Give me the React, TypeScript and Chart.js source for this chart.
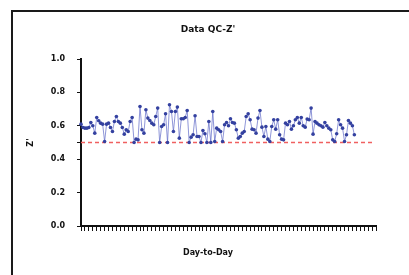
import React, { useEffect, useRef } from "react";
import { Chart, registerables } from "chart.js";

Chart.register(...registerables);

// Z' values per day
const zValues: number[] = [
  0.61, 0.59, 0.586, 0.586, 0.59, 0.62, 0.6, 0.556, 0.65, 0.63,
  0.616, 0.61, 0.506, 0.61, 0.616, 0.59, 0.566, 0.626, 0.656, 0.626,
  0.616, 0.59, 0.55, 0.576, 0.566, 0.626, 0.65, 0.5, 0.52, 0.516,
  0.716, 0.576, 0.556, 0.696, 0.646, 0.632, 0.616, 0.606, 0.656, 0.706,
  0.5, 0.596, 0.606, 0.672, 0.5, 0.726, 0.686, 0.566, 0.686, 0.712,
  0.526, 0.642, 0.642, 0.65, 0.692, 0.5, 0.532, 0.546, 0.66, 0.536,
  0.536, 0.5, 0.572, 0.552, 0.5, 0.626, 0.5,
  0.686, 0.506, 0.586, 0.576, 0.566, 0.506, 0.606, 0.62, 0.6, 0.642,
  0.62, 0.616, 0.576, 0.526, 0.536, 0.556, 0.566, 0.656, 0.672, 0.636,
  0.58, 0.576, 0.556, 0.646, 0.692, 0.592, 0.536, 0.596, 0.52, 0.506,
  0.596, 0.636, 0.58, 0.636, 0.546, 0.52, 0.516, 0.616, 0.606, 0.626,
  0.58, 0.6, 0.636, 0.65, 0.616, 0.65, 0.6, 0.592, 0.64, 0.636,
  0.706, 0.55, 0.626, 0.616, 0.606, 0.6, 0.592, 0.62, 0.6, 0.586,
  0.576, 0.516, 0.506, 0.552, 0.636, 0.606, 0.586, 0.506, 0.546, 0.632,
  0.616, 0.6, 0.546,
];

// Day categories on the x axis (the axis runs a little past the last measured day)
const dayLabels: string[] = [
  "1","2","3","4","5","6","7","8","9","10","11","12","13","14","15","16","17","18","19","20",
  "21","22","23","24","25","26","27","28","29","30","31","32","33","34","35","36","37","38","39","40",
  "41","42","43","44","45","46","47","48","49","50","51","52","53","54","55","56","57","58","59","60",
  "61","62","63","64","65","66","67","68","69","70","71","72","73","74","75","76","77","78","79","80",
  "81","82","83","84","85","86","87","88","89","90","91","92","93","94","95","96","97","98","99","100",
  "101","102","103","104","105","106","107","108","109","110","111","112","113","114","115","116","117","118","119","120",
  "121","122","123","124","125","126","127","128","129","130","131","132","133","134","135","136","137","138","139","140",
  "141","142","143","144","145","146","147","148","149","150","151",
];

const yTickValues: number[] = [0, 0.2, 0.4, 0.5, 0.6, 0.8, 1.0];
const yTickLabels: string[] = ["0.0", "0.2", "0.4", "", "0.6", "0.8", "1.0"];

const thresholdValue = 0.5;
const thresholdStartDay = "1";
const thresholdEndDay = "149";

const titleText = "Data QC-Z'";
const xTitleText = "Day-to-Day";
const yTitleText = "Z'";

export default function App() {
  const ref = useRef<HTMLCanvasElement>(null);

  useEffect(() => {
    document.body.style.margin = "0";
    if (!ref.current) return;
    Chart.defaults.font.family = "'DejaVu Sans', sans-serif";

    const framePlugin = {
      id: "frame",
      beforeDraw(chart: any) {
        const ctx = chart.ctx;
        ctx.save();
        ctx.fillStyle = "#ffffff";
        ctx.fillRect(0, 0, chart.width, chart.height);
        ctx.strokeStyle = "#1a1a1a";
        ctx.lineWidth = 2;
        ctx.strokeRect(12, 11, 440, 320);
        ctx.restore();
      },
    };

    const chart = new Chart(ref.current, {
      type: "line",
      data: {
        labels: dayLabels,
        datasets: [
          {
            data: zValues,
            borderColor: "rgba(95,105,200,0.7)",
            borderWidth: 1,
            pointRadius: 1.8,
            pointBackgroundColor: "#3441a0",
            pointBorderColor: "#3441a0",
            pointBorderWidth: 0,
            tension: 0,
            order: 1,
          },
          {
            data: [
              { x: thresholdStartDay, y: thresholdValue },
              { x: thresholdEndDay, y: thresholdValue },
            ] as any,
            borderColor: "#f06060",
            borderDash: [4, 3],
            borderWidth: 1.5,
            pointRadius: 0,
            order: 2,
          },
        ],
      },
      options: {
        animation: false,
        responsive: false,
        layout: { padding: { left: 40, right: 33, top: 0, bottom: 0 } },
        plugins: {
          legend: { display: false },
          tooltip: { enabled: false },
          title: {
            display: true,
            text: titleText,
            color: "#111",
            font: { size: 9, weight: "bold" },
            padding: { top: 24, bottom: 24.2 },
          },
          subtitle: {
            display: true,
            position: "bottom",
            text: xTitleText,
            color: "#111",
            font: { size: 8, weight: "bold" },
            padding: { top: 12.2, bottom: 17.2 },
          },
        },
        scales: {
          x: {
            type: "category",
            offset: false,
            afterFit: (s: any) => {
              s.height = 10;
            },
            grid: {
              display: true,
              drawOnChartArea: false,
              drawTicks: true,
              tickLength: 5,
              color: (c: any) => (c.index % 2 === 0 ? "#111" : "rgba(0,0,0,0)"),
              lineWidth: 1,
            },
            border: { display: true, color: "#111", width: 2 },
            ticks: {
              autoSkip: false,
              maxRotation: 0,
              callback: () => "",
            },
          },
          y: {
            min: 0,
            max: 1,
            afterFit: (s: any) => {
              s.width = 41;
            },
            afterBuildTicks: (s: any) => {
              s.ticks = yTickValues.map((v) => ({ value: v }));
            },
            grid: {
              display: true,
              drawOnChartArea: false,
              tickLength: 4,
              color: "#111",
            },
            border: { display: true, color: "#111", width: 2 },
            ticks: {
              color: "#111",
              font: { size: 8, weight: "bold" },
              padding: 12,
              callback: (_v: any, i: number) => yTickLabels[i],
            },
            title: {
              display: true,
              text: yTitleText,
              color: "#111",
              font: { size: 8, weight: "bold" },
              padding: { top: -13.8, bottom: 0 },
            },
          },
        },
      },
      plugins: [framePlugin],
    });

    return () => chart.destroy();
  }, []);

  return (
    <div style={{ position: "fixed", left: 0, top: 0, width: 409, height: 275 }}>
      <canvas ref={ref} width={409} height={275} style={{ width: 409, height: 275, display: "block" }} />
    </div>
  );
}
